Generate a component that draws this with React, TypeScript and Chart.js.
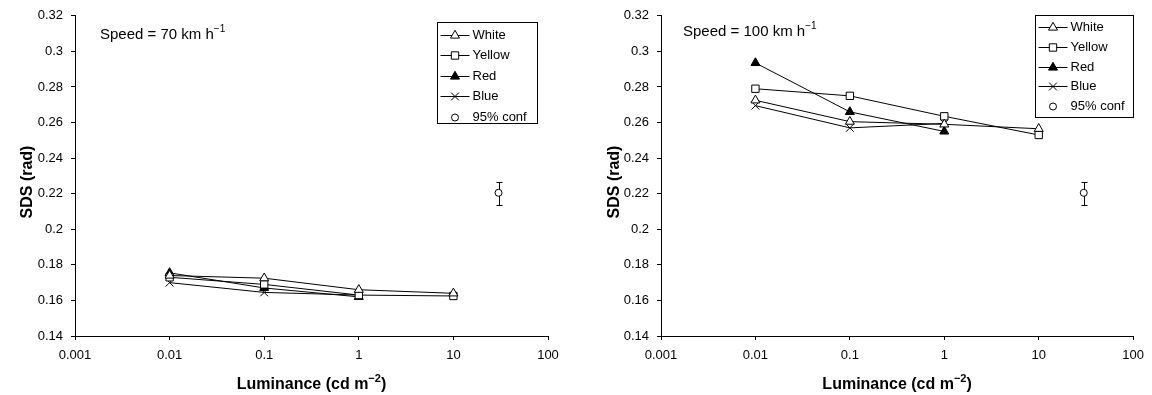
import { useEffect, useRef } from "react";
import { Chart, registerables } from "chart.js";

Chart.register(...registerables);

const FONT = '"Liberation Sans", Arial, Helvetica, sans-serif';

// Luminance levels (cd m^-2) at which SDS was measured
const luminance = [0.01, 0.1, 1, 10];
// Position of the 95% confidence indicator on the luminance axis
const confLuminance = [30];

const xTicks = [0.001, 0.01, 0.1, 1, 10, 100];
const xTickLabels = ["0.001", "0.01", "0.1", "1", "10", "100"];
const yTicks = [0.14, 0.16, 0.18, 0.2, 0.22, 0.24, 0.26, 0.28, 0.3, 0.32];
const yTickLabels = ["0.14", "0.16", "0.18", "0.2", "0.22", "0.24", "0.26", "0.28", "0.3", "0.32"];

// 70 km/h
const white70 = [0.174, 0.1725, 0.166, 0.164];
const yellow70 = [0.173, 0.169, 0.163, 0.1625];
const red70 = [0.1755, 0.167, 0.162];
const blue70 = [0.17, 0.1645, 0.163];
const conf70 = [0.2205];
const conf70Low = [0.2135];
const conf70High = [0.2268];

// 100 km/h
const white100 = [0.2725, 0.2605, 0.259, 0.2565];
const yellow100 = [0.279, 0.275, 0.2635, 0.253];
const red100 = [0.2935, 0.266, 0.255];
const blue100 = [0.2695, 0.257, 0.2595];
const conf100 = [0.2205];
const conf100Low = [0.2135];
const conf100High = [0.2268];

const seriesNames = ["White", "Yellow", "Red", "Blue"];
const confName = "95% conf";

type Marker = { style: string; radius: number; filled: boolean };
const markers: Marker[] = [
  { style: "triangle", radius: 5.2, filled: false },
  { style: "rect", radius: 5.2, filled: false },
  { style: "triangle", radius: 5.2, filled: true },
  { style: "crossRot", radius: 5.5, filled: false },
];
const confMarker: Marker = { style: "circle", radius: 3.5, filled: false };

type Panel = {
  speed: string;
  series: number[][];
  conf: number[];
  confLow: number[];
  confHigh: number[];
  yAxisWidth: number;
  padRight: number;
  speedX: number;
  speedY: number;
  yTitleX: number;
  legendBox: { x: number; y: number; w: number; h: number; first: number; step: number };
};

const panels: Panel[] = [
  {
    speed: "70",
    series: [white70, yellow70, red70, blue70],
    conf: conf70,
    confLow: conf70Low,
    confHigh: conf70High,
    yAxisWidth: 75,
    padRight: 28,
    speedX: 100,
    speedY: 35,
    yTitleX: 28,
    legendBox: { x: 437.5, y: 22.5, w: 100, h: 101, first: 34.5, step: 20.5 },
  },
  {
    speed: "100",
    series: [white100, yellow100, red100, blue100],
    conf: conf100,
    confLow: conf100Low,
    confHigh: conf100High,
    yAxisWidth: 85,
    padRight: 16,
    speedX: 107,
    speedY: 32,
    yTitleX: 39,
    legendBox: { x: 459.5, y: 15.5, w: 98, h: 102, first: 27, step: 19.8 },
  },
];

function drawMarker(ctx: CanvasRenderingContext2D, m: Marker, x: number, y: number) {
  const r = m.radius;
  ctx.save();
  ctx.lineWidth = 1;
  ctx.strokeStyle = "#000";
  ctx.fillStyle = m.filled ? "#000" : "#fff";
  ctx.beginPath();
  if (m.style === "triangle") {
    ctx.moveTo(x, y - r);
    ctx.lineTo(x + r * 0.866, y + r * 0.5);
    ctx.lineTo(x - r * 0.866, y + r * 0.5);
    ctx.closePath();
    ctx.fill();
    ctx.stroke();
  } else if (m.style === "rect") {
    const s = r * Math.SQRT1_2;
    ctx.rect(x - s, y - s, 2 * s, 2 * s);
    ctx.fill();
    ctx.stroke();
  } else if (m.style === "crossRot") {
    const s = r * Math.SQRT1_2;
    ctx.moveTo(x - s, y - s);
    ctx.lineTo(x + s, y + s);
    ctx.moveTo(x + s, y - s);
    ctx.lineTo(x - s, y + s);
    ctx.stroke();
  } else {
    ctx.arc(x, y, r, 0, Math.PI * 2);
    ctx.fill();
    ctx.stroke();
  }
  ctx.restore();
}

type Part = { text: string; sup?: boolean };

// Draws text made of normal and superscript runs
function drawRichText(
  ctx: CanvasRenderingContext2D,
  parts: Part[],
  x: number,
  y: number,
  size: number,
  bold: boolean,
  align: "left" | "center"
) {
  const weight = bold ? "bold " : "";
  const supSize = Math.round(size * 0.68);
  const widths = parts.map((p) => {
    ctx.font = `${weight}${p.sup ? supSize : size}px ${FONT}`;
    return ctx.measureText(p.text).width;
  });
  const total = widths.reduce((a, b) => a + b, 0);
  let cx = align === "center" ? x - total / 2 : x;
  ctx.textBaseline = "middle";
  ctx.textAlign = "left";
  ctx.fillStyle = "#000";
  parts.forEach((p, i) => {
    ctx.font = `${weight}${p.sup ? supSize : size}px ${FONT}`;
    ctx.fillText(p.text, cx, p.sup ? y - size * 0.38 : y);
    cx += widths[i];
  });
}

function makeDecor(panel: Panel) {
  return {
    id: "panelDecor",
    beforeDatasetsDraw(chart: any) {
      // 95% confidence error bar
      const ctx: CanvasRenderingContext2D = chart.ctx;
      const xs = chart.scales.x;
      const ys = chart.scales.y;
      ctx.save();
      ctx.strokeStyle = "#000";
      ctx.lineWidth = 1;
      confLuminance.forEach((lx, i) => {
        const px = Math.round(xs.getPixelForValue(lx)) + 0.5;
        const top = Math.round(ys.getPixelForValue(panel.confHigh[i])) + 0.5;
        const bot = Math.round(ys.getPixelForValue(panel.confLow[i])) + 0.5;
        ctx.beginPath();
        ctx.moveTo(px, top);
        ctx.lineTo(px, bot);
        ctx.moveTo(px - 3, top);
        ctx.lineTo(px + 3, top);
        ctx.moveTo(px - 3, bot);
        ctx.lineTo(px + 3, bot);
        ctx.stroke();
      });
      ctx.restore();
    },
    afterDraw(chart: any) {
      const ctx: CanvasRenderingContext2D = chart.ctx;
      const area = chart.chartArea;
      ctx.save();

      // speed annotation
      drawRichText(
        ctx,
        [{ text: `Speed = ${panel.speed} km h` }, { text: "\u22121", sup: true }],
        panel.speedX,
        panel.speedY,
        15,
        false,
        "left"
      );

      // x axis title
      drawRichText(
        ctx,
        [{ text: "Luminance (cd m" }, { text: "\u22122", sup: true }, { text: ")" }],
        (area.left + area.right) / 2,
        385,
        16,
        true,
        "center"
      );

      // y axis title
      ctx.save();
      ctx.translate(panel.yTitleX, 182);
      ctx.rotate(-Math.PI / 2);
      ctx.font = `bold 16px ${FONT}`;
      ctx.fillStyle = "#000";
      ctx.textAlign = "center";
      ctx.textBaseline = "middle";
      ctx.fillText("SDS (rad)", 0, 0);
      ctx.restore();

      // legend
      const b = panel.legendBox;
      ctx.fillStyle = "#fff";
      ctx.fillRect(b.x, b.y, b.w, b.h);
      ctx.strokeStyle = "#000";
      ctx.lineWidth = 1;
      ctx.strokeRect(b.x, b.y, b.w, b.h);
      const lineX0 = b.x + 3;
      const lineX1 = b.x + 32;
      const mx = (lineX0 + lineX1) / 2;
      const tx = b.x + 35;
      ctx.font = `13px ${FONT}`;
      ctx.textBaseline = "middle";
      ctx.textAlign = "left";
      seriesNames.forEach((name, i) => {
        const y = Math.round(b.first + i * b.step) + 0.5;
        ctx.beginPath();
        ctx.strokeStyle = "#000";
        ctx.moveTo(lineX0, y);
        ctx.lineTo(lineX1, y);
        ctx.stroke();
        drawMarker(ctx, markers[i], mx, y);
        ctx.fillStyle = "#000";
        ctx.font = `13px ${FONT}`;
        ctx.fillText(name, tx, y);
      });
      const cy = Math.round(b.first + 4 * b.step) + 0.5;
      drawMarker(ctx, confMarker, mx, cy);
      ctx.fillStyle = "#000";
      ctx.font = `13px ${FONT}`;
      ctx.fillText(confName, tx, cy);

      ctx.restore();
    },
  };
}

function buildConfig(panel: Panel): any {
  const datasets: any[] = panel.series.map((vals, i) => ({
    label: seriesNames[i],
    data: vals.map((v, j) => ({ x: luminance[j], y: v })),
    borderColor: "#000",
    borderWidth: 1,
    backgroundColor: markers[i].filled ? "#000" : "#fff",
    pointStyle: markers[i].style,
    pointRadius: markers[i].radius,
    pointBorderColor: "#000",
    pointBackgroundColor: markers[i].filled ? "#000" : "#fff",
    pointBorderWidth: 1,
    tension: 0,
    fill: false,
    showLine: true,
  }));
  datasets.push({
    label: confName,
    data: panel.conf.map((v, j) => ({ x: confLuminance[j], y: v })),
    showLine: false,
    pointStyle: "circle",
    pointRadius: confMarker.radius,
    pointBorderColor: "#000",
    pointBackgroundColor: "#fff",
    pointBorderWidth: 1,
    borderColor: "#000",
  });

  const tickFont = { family: FONT, size: 13 };

  return {
    type: "line",
    data: { datasets },
    options: {
      responsive: false,
      animation: false,
      devicePixelRatio: 1,
      layout: { padding: { top: 14, right: panel.padRight, left: 0, bottom: 0 } },
      plugins: { legend: { display: false }, tooltip: { enabled: false }, title: { display: false } },
      scales: {
        x: {
          type: "logarithmic",
          min: 0.001,
          max: 100,
          afterBuildTicks: (s: any) => {
            s.ticks = xTicks.map((v) => ({ value: v }));
          },
          afterFit: (s: any) => {
            s.height = 59;
          },
          ticks: {
            callback: (_v: any, i: number) => xTickLabels[i],
            font: tickFont,
            color: "#000",
            padding: 8,
            maxRotation: 0,
            autoSkip: false,
          },
          grid: { drawOnChartArea: false, drawTicks: true, tickLength: 4, color: "#000" },
          border: { display: true, color: "#000", width: 1 },
        },
        y: {
          type: "linear",
          min: 0.14,
          max: 0.32,
          afterBuildTicks: (s: any) => {
            s.ticks = yTicks.map((v) => ({ value: v }));
          },
          afterFit: (s: any) => {
            s.width = panel.yAxisWidth;
          },
          ticks: {
            callback: (_v: any, i: number) => yTickLabels[i],
            font: tickFont,
            color: "#000",
            padding: 8,
            autoSkip: false,
          },
          grid: { drawOnChartArea: false, drawTicks: true, tickLength: 4, color: "#000" },
          border: { display: true, color: "#000", width: 1 },
        },
      },
    },
    plugins: [makeDecor(panel)],
  };
}

function PanelChart({ panel, left }: { panel: Panel; left: number }) {
  const ref = useRef<HTMLCanvasElement>(null);
  useEffect(() => {
    if (!ref.current) return;
    const chart = new Chart(ref.current, buildConfig(panel));
    return () => chart.destroy();
  }, [panel]);
  return (
    <div style={{ position: "absolute", left, top: 0, width: 576, height: 395 }}>
      <canvas ref={ref} width={576} height={395} style={{ display: "block" }} />
    </div>
  );
}

export default function App() {
  return (
    <div
      style={{
        position: "fixed",
        left: 0,
        top: 0,
        width: 1152,
        height: 395,
        background: "#fff",
        overflow: "hidden",
      }}
    >
      <PanelChart panel={panels[0]} left={0} />
      <PanelChart panel={panels[1]} left={576} />
    </div>
  );
}
